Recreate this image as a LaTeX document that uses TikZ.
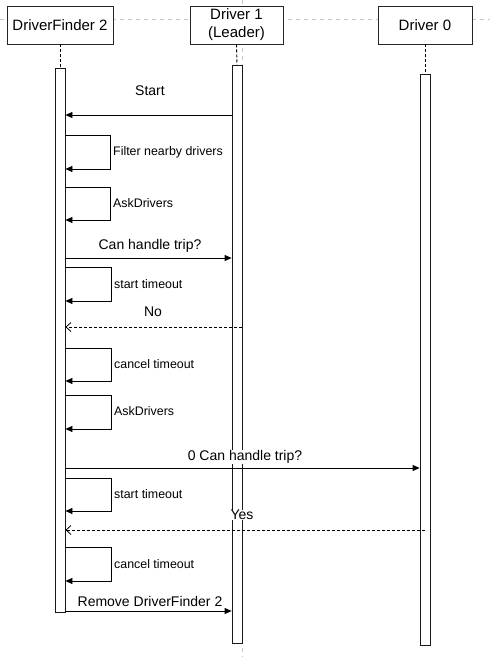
\documentclass[tikz,border=0pt]{standalone}
\usepackage{fontspec}
\setmainfont{Liberation Sans}
\usetikzlibrary{arrows.meta}
\begin{document}
\begin{tikzpicture}[x=1pt,y=-1pt,
  hdr/.style={draw=black!85, line width=0.9pt, minimum height=38pt, font=\fontsize{15}{18}\selectfont, align=center, inner sep=0pt, fill=white},
  act/.style={draw=black!90, line width=0.8pt, fill=white, minimum width=10pt, inner sep=0pt},
  msg/.style={line width=0.8pt, -{Triangle[length=7pt,width=6pt]}},
  ret/.style={line width=0.8pt, dash pattern=on 3pt off 2pt, -{Straight Barb[length=5pt,width=9pt]}},
  mlab/.style={font=\fontsize{14}{16}\selectfont, inner sep=0.5pt, fill=white},
  slab/.style={font=\fontsize{12.4}{14}\selectfont, anchor=west, inner sep=0pt},
  gridline/.style={draw=black!22, dash pattern=on 4pt off 4pt, line width=0.8pt},
  life/.style={dash pattern=on 3pt off 2pt, line width=0.9pt}
]
\useasboundingbox (0,0) rectangle (490,657);
% background guides
\coordinate (gl) at (0,19);
\coordinate (gr) at (490,19);
\coordinate (gt) at (242,0);
\coordinate (gb) at (242,657);
\draw[gridline] (gl) -- (gr);
\draw[gridline] (gt) -- (gb);
% headers
\node[hdr, minimum width=106pt] (h2) at (60,25) {DriverFinder 2};
\node[hdr, minimum width=93pt] (h1) at (236.5,25) {Driver 1\\[0pt](Leader)};
\node[hdr, minimum width=94pt] (h0) at (425,25) {Driver 0};
% activations
\node[act, minimum height=544pt] (a2) at (60,340) {};
\node[act, minimum height=578pt] (a1) at (237,354) {};
\node[act, minimum height=571pt] (a0) at (425,359.5) {};
% lifelines
\draw[life] (h2.south) -- (a2.north);
\draw[life] (h1.south) -- (a1.north);
\draw[life] (h0.south) -- (a0.north);
% messages
\draw[msg] (a1.west |- 0,115) -- (a2.east |- 0,115);
\draw[msg] (a2.east |- 0,135) -- ++(45,0) -- ++(0,34) -- (a2.east |- 0,169);
\draw[msg] (a2.east |- 0,187) -- ++(45,0) -- ++(0,33) -- (a2.east |- 0,220);
\draw[msg] (a2.east |- 0,258) -- (a1.west |- 0,258);
\draw[msg] (a2.east |- 0,267) -- ++(46,0) -- ++(0,34) -- (a2.east |- 0,301);
\draw[ret] (a1.east |- 0,327) -- (a2.east |- 0,327);
\draw[msg] (a2.east |- 0,348) -- ++(46,0) -- ++(0,33) -- (a2.east |- 0,381);
\draw[msg] (a2.east |- 0,395) -- ++(46,0) -- ++(0,34) -- (a2.east |- 0,429);
\draw[msg] (a2.east |- 0,468) -- (a0.west |- 0,468);
\draw[msg] (a2.east |- 0,478) -- ++(46,0) -- ++(0,33) -- (a2.east |- 0,511);
\draw[ret] (a0.center |- 0,530) -- (a2.east |- 0,530);
\draw[msg] (a2.east |- 0,547) -- ++(46,0) -- ++(0,34) -- (a2.east |- 0,581);
\draw[msg] (a2.east |- 0,611) -- (a1.west |- 0,611);
% labels
\node[mlab] (l1) at (150,91) {Start};
\node[slab] (l2) at (113,152) {Filter nearby drivers};
\node[slab] (l3) at (113,203) {AskDrivers};
\node[mlab] (l4) at (150,246) {Can handle trip?};
\node[slab] (l5) at (114,284) {start timeout};
\node[mlab] (l6) at (153,312) {No};
\node[slab] (l7) at (114,364) {cancel timeout};
\node[slab] (l8) at (114,411) {AskDrivers};
\node[mlab] (l9) at (245,457) {0 Can handle trip?};
\node[slab] (l10) at (114,494) {start timeout};
\node[mlab] (l11) at (242,515) {Yes};
\node[slab] (l12) at (114,564) {cancel timeout};
\node[mlab] (l13) at (150,601) {Remove DriverFinder 2};
\end{tikzpicture}
\end{document}
